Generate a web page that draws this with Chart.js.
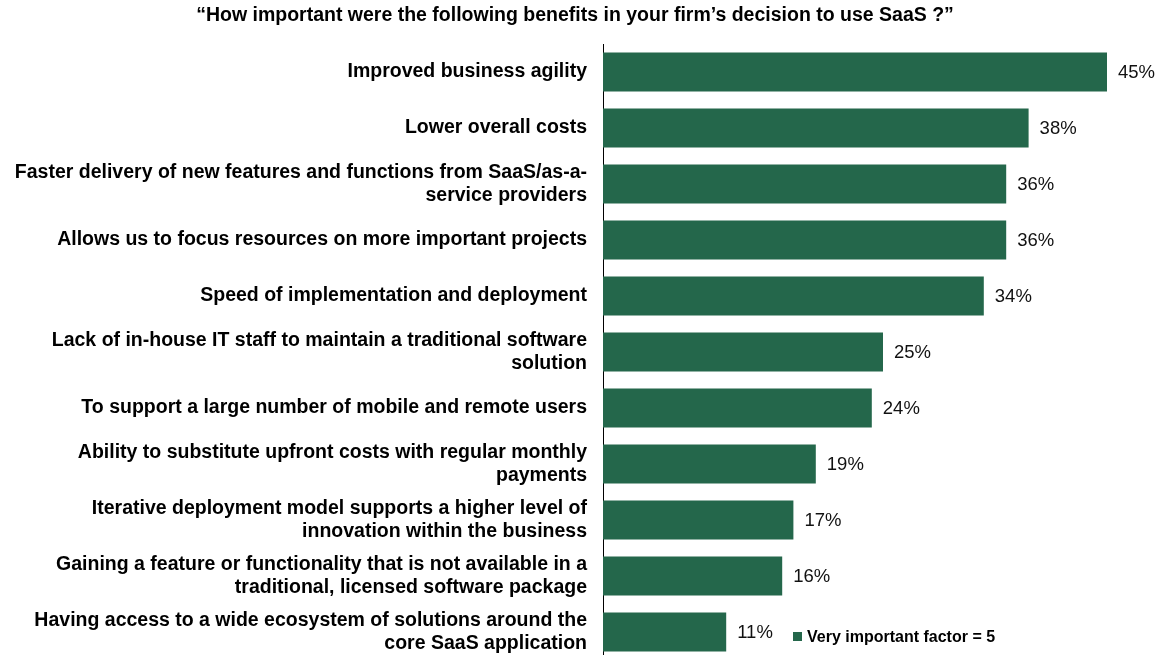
<!DOCTYPE html>
<html>
<head>
<meta charset="utf-8">
<title>SaaS benefits</title>
<script src="https://cdn.jsdelivr.net/npm/chart.js@4"></script>
<style>
    html, body { margin: 0; padding: 0; background: #fff; overflow: hidden; }
    canvas { display: block; }
</style>
</head>
<body>
<canvas id="benefitsChart" width="1164" height="660"></canvas>
<script>
// Chart data
const titleText = '\u201CHow important were the following benefits in your firm\u2019s decision to use SaaS ?\u201D';
const seriesName = 'Very important factor = 5';
const categories = [
    'Improved business agility',
    'Lower overall costs',
    ['Faster delivery of new features and functions from SaaS/as-a-', 'service providers'],
    'Allows us to focus resources on more important projects',
    'Speed of implementation and deployment',
    ['Lack of in-house IT staff to maintain a traditional software', 'solution'],
    'To support a large number of mobile and remote users',
    ['Ability to substitute upfront costs with regular monthly', 'payments'],
    ['Iterative deployment model supports a higher level of', 'innovation within the business'],
    ['Gaining a feature or functionality that is not available in a', 'traditional, licensed software package'],
    ['Having access to a wide ecosystem of solutions around the', 'core SaaS application']
];
const values = [45, 38, 36, 36, 34, 25, 24, 19, 17, 16, 11];

const barColor = '#24674B';
const fontFamily = '"Liberation Sans", Arial, sans-serif';

// Title, value labels and the little legend drawn straight onto the canvas
const extrasPlugin = {
    id: 'extras',
    afterDraw(chart) {
        const ctx = chart.ctx;
        ctx.save();

        // title
        ctx.fillStyle = '#000';
        ctx.font = 'bold 19.5px ' + fontFamily;
        ctx.textAlign = 'center';
        ctx.textBaseline = 'middle';
        ctx.fillText(titleText, 575, 16);

        // value labels at the end of each bar
        const meta = chart.getDatasetMeta(0);
        ctx.font = '18.5px ' + fontFamily;
        ctx.textAlign = 'left';
        ctx.fillStyle = '#111';
        meta.data.forEach((bar, i) => {
            ctx.fillText(values[i] + '%', bar.x + 11, bar.y + 1);
        });

        // legend
        ctx.fillStyle = barColor;
        ctx.fillRect(793, 632, 9, 9);
        ctx.fillStyle = '#000';
        ctx.font = 'bold 16px ' + fontFamily;
        ctx.fillText(seriesName, 807, 638);

        ctx.restore();
    }
};

const ctx = document.getElementById('benefitsChart').getContext('2d');
const benefitsChart = new Chart(ctx, {
    type: 'bar',
    data: {
        labels: categories,
        datasets: [{
            label: seriesName,
            data: values,
            backgroundColor: barColor,
            borderWidth: 0,
            barPercentage: 0.7,
            categoryPercentage: 1
        }]
    },
    options: {
        indexAxis: 'y',
        responsive: false,
        animation: false,
        layout: {
            padding: { top: 44, right: 1, bottom: 0, left: 0 }
        },
        plugins: {
            legend: { display: false },
            title: { display: false },
            tooltip: { enabled: false }
        },
        scales: {
            x: {
                display: false,
                min: 0,
                max: 50
            },
            y: {
                grid: { display: false, drawTicks: false },
                border: { display: true, color: '#000', width: 1 },
                ticks: {
                    color: '#000',
                    padding: 16,
                    font: { family: fontFamily, size: 19.5, weight: 'bold', lineHeight: 1.2 }
                },
                afterFit(scale) {
                    // fixed label column, and no extra room for the two-line labels at the ends
                    scale.width = 603;
                    scale.paddingTop = 0;
                    scale.paddingBottom = 0;
                }
            }
        }
    },
    plugins: [extrasPlugin]
});
</script>
</body>
</html>
